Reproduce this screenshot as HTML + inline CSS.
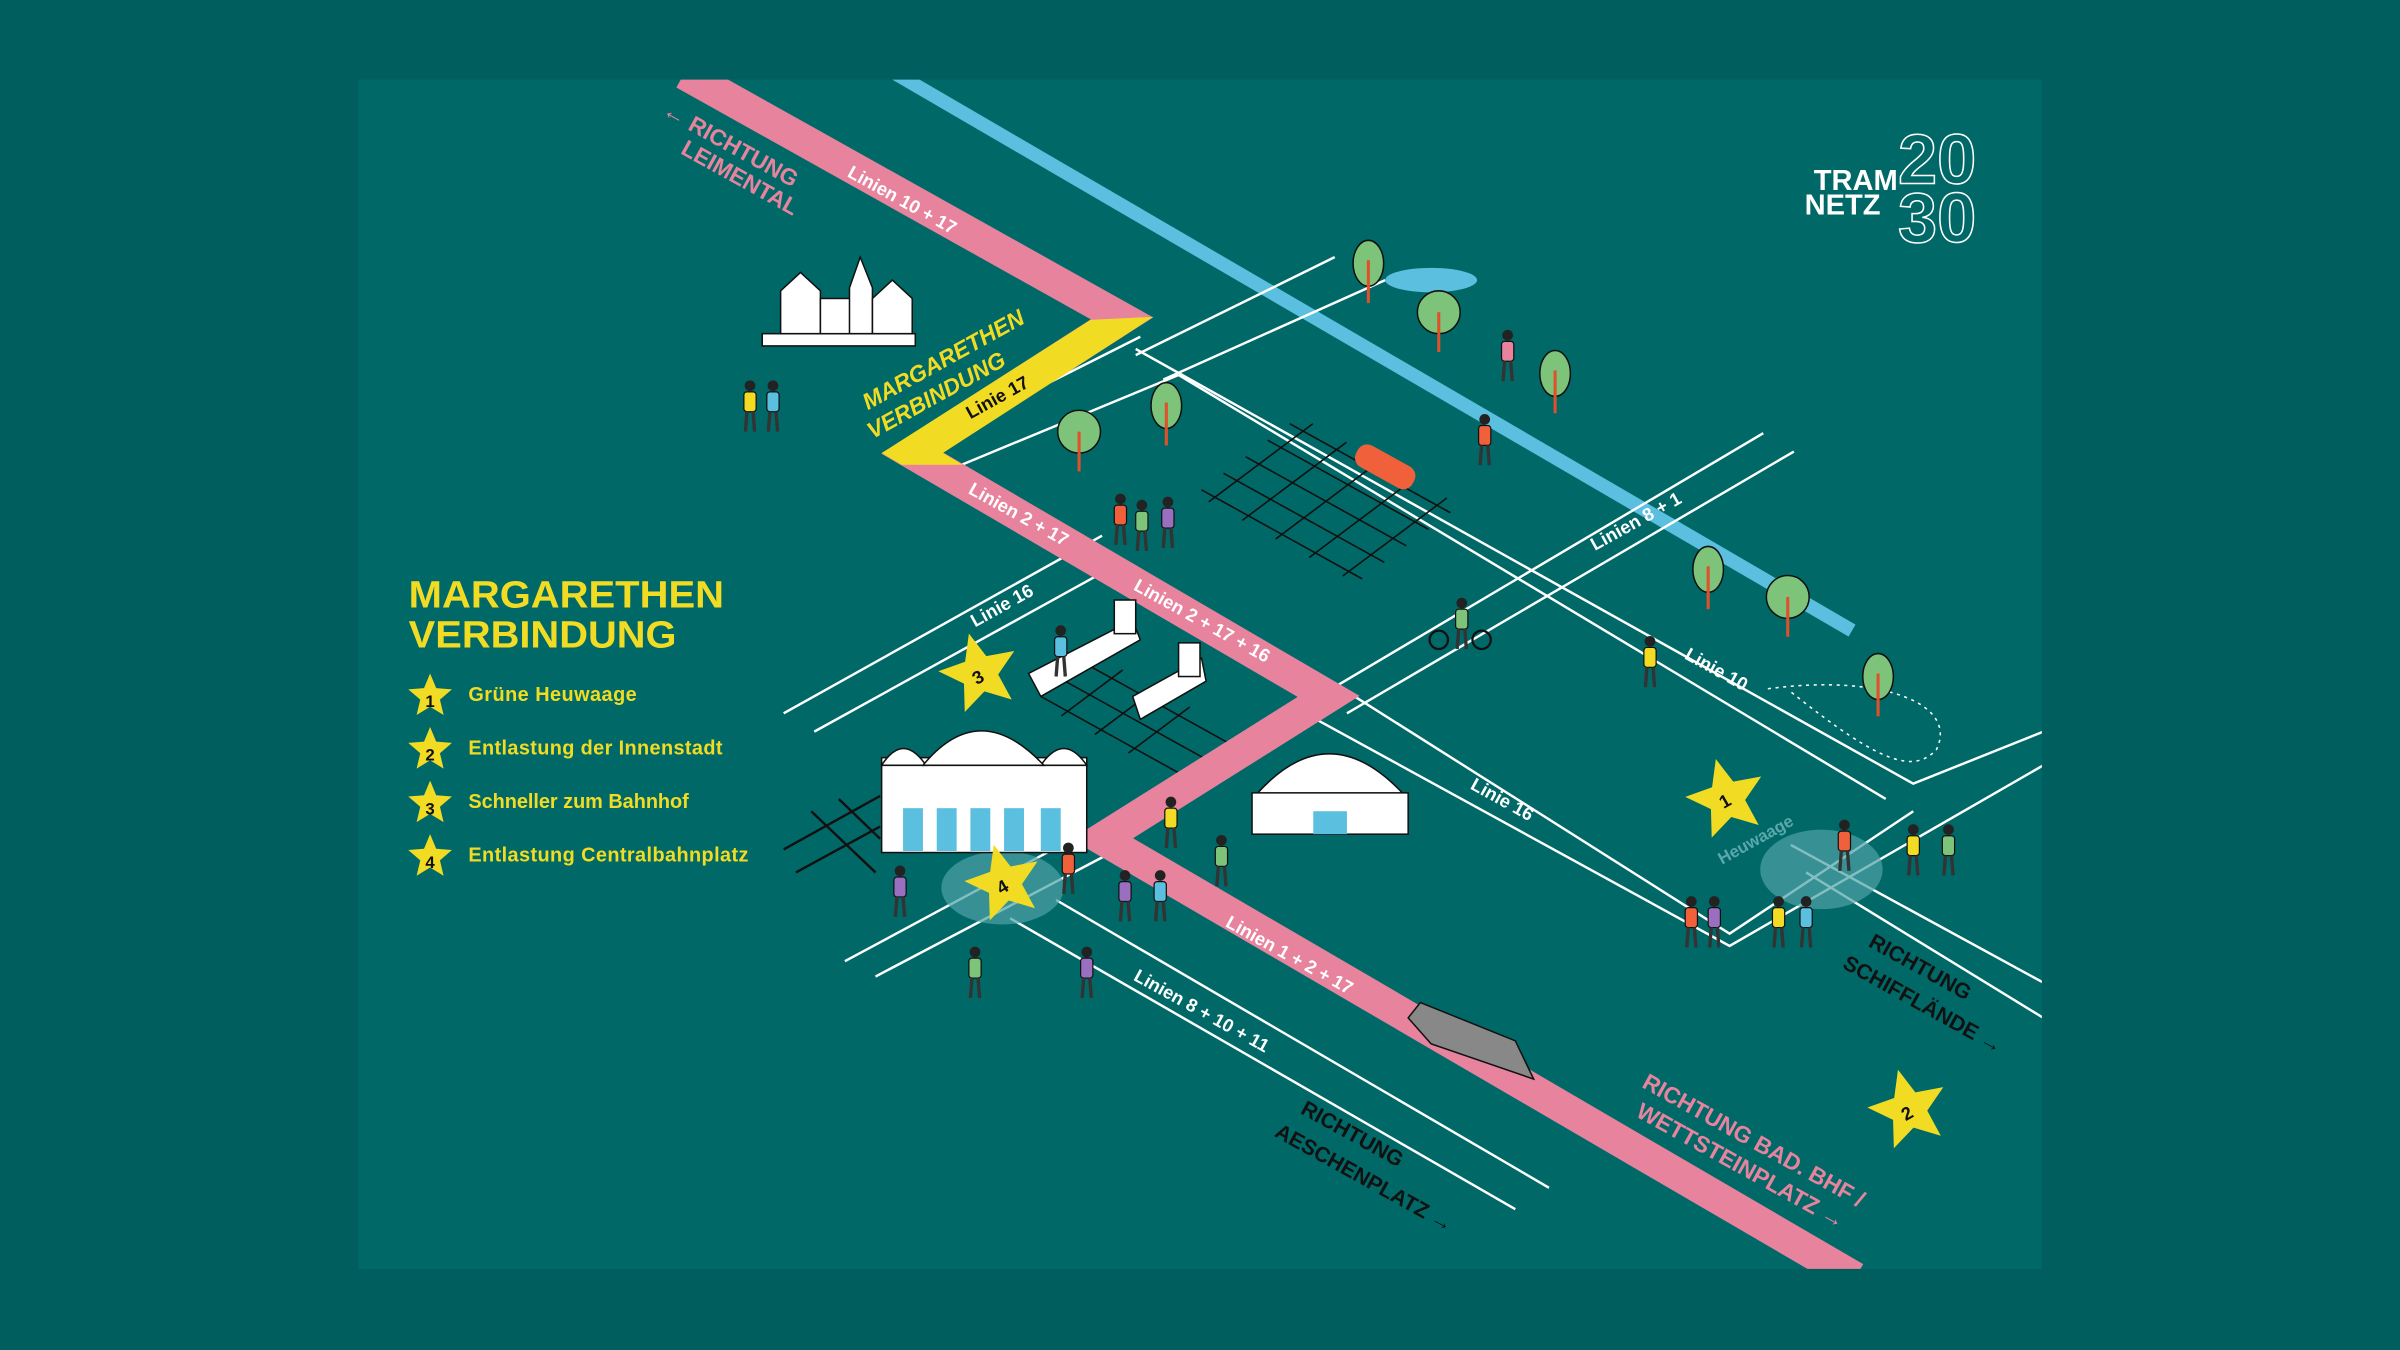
<!DOCTYPE html>
<html><head><meta charset="utf-8"><style>
html,body{margin:0;padding:0;background:#006060;}
svg{display:block;}
text{font-family:"Liberation Sans",sans-serif;font-weight:bold;}
</style></head><body>
<svg width="2400" height="1350" viewBox="0 0 1568 882" xmlns="http://www.w3.org/2000/svg">
<defs>
<polygon id="st" points="0,-1 0.265,-0.364 0.951,-0.309 0.428,0.139 0.588,0.809 0,0.45 -0.588,0.809 -0.428,0.139 -0.951,-0.309 -0.265,-0.364"/>
<g id="tree"><ellipse cx="0" cy="-18" rx="10" ry="15" fill="#7dc47a" stroke="#111" stroke-width="1"/><line x1="0" y1="-20" x2="0" y2="8" stroke="#e0502a" stroke-width="2"/></g>
<g id="bigtree"><circle cx="0" cy="-18" r="14" fill="#7dc47a" stroke="#111" stroke-width="1"/><line x1="0" y1="-18" x2="0" y2="8" stroke="#e0502a" stroke-width="2"/></g>
<g id="p"><circle cx="0" cy="-26" r="3.5" fill="#222"/><rect x="-4" y="-22" width="8" height="13" rx="2" stroke="#111" stroke-width="0.8"/><line x1="-2" y1="-9" x2="-3" y2="4" stroke="#333" stroke-width="2.2"/><line x1="2" y1="-9" x2="3" y2="4" stroke="#333" stroke-width="2.2"/></g>
</defs>
<rect width="1568" height="882" fill="#005f5e"/>
<rect x="234" y="52" width="1100" height="777" fill="#006968"/>
<clipPath id="c"><rect x="234" y="52" width="1100" height="777"/></clipPath>
<g clip-path="url(#c)">
<line x1="585" y1="48" x2="1210" y2="412" stroke="#5bbfe0" stroke-width="9"/>
<g stroke="#fff" stroke-width="1.6" fill="none">
<polyline points="742,228 1250,512 1335,478"/>
<polyline points="770,245 1232,522"/>
<polyline points="742,232 872,168"/><polyline points="760,248 905,183"/>
<polyline points="610,288 745,220"/><polyline points="625,305 770,245"/>
<polyline points="512,466 720,350"/><polyline points="532,478 735,366"/>
<polyline points="870,450 1152,283"/><polyline points="880,466 1172,295"/>
<polyline points="885,455 1130,610 1250,530"/><polyline points="860,470 1130,618 1335,500"/>
<polyline points="552,628 712,542"/><polyline points="572,638 728,556"/>
<polyline points="690,588 1012,776"/><polyline points="660,600 990,790"/>
<polyline points="1170,552 1335,642"/><polyline points="1180,570 1335,665"/>
</g>
<!-- black grids -->
<g stroke="#111" stroke-width="1.6">
<g transform="matrix(0.875,0.485,0.8,-0.6,785,320)">
<g vector-effect="non-scaling-stroke">
<line x1="0" y1="0" x2="120" y2="0" vector-effect="non-scaling-stroke"/><line x1="0" y1="18" x2="120" y2="18" vector-effect="non-scaling-stroke"/><line x1="0" y1="36" x2="120" y2="36" vector-effect="non-scaling-stroke"/><line x1="0" y1="54" x2="120" y2="54" vector-effect="non-scaling-stroke"/><line x1="0" y1="72" x2="120" y2="72" vector-effect="non-scaling-stroke"/>
<line x1="10" y1="-5" x2="10" y2="80" vector-effect="non-scaling-stroke"/><line x1="35" y1="-5" x2="35" y2="80" vector-effect="non-scaling-stroke"/><line x1="60" y1="-5" x2="60" y2="80" vector-effect="non-scaling-stroke"/><line x1="85" y1="-5" x2="85" y2="80" vector-effect="non-scaling-stroke"/><line x1="110" y1="-5" x2="110" y2="80" vector-effect="non-scaling-stroke"/>
</g></g>
<g transform="matrix(0.875,0.485,0.8,-0.6,680,455)">
<line x1="0" y1="0" x2="110" y2="0" vector-effect="non-scaling-stroke"/><line x1="0" y1="18" x2="110" y2="18" vector-effect="non-scaling-stroke"/><line x1="0" y1="36" x2="110" y2="36" vector-effect="non-scaling-stroke"/>
<line x1="20" y1="-5" x2="20" y2="45" vector-effect="non-scaling-stroke"/><line x1="45" y1="-5" x2="45" y2="45" vector-effect="non-scaling-stroke"/><line x1="70" y1="-5" x2="70" y2="45" vector-effect="non-scaling-stroke"/>
</g>
<line x1="512" y1="555" x2="575" y2="520"/><line x1="520" y1="570" x2="575" y2="540"/><line x1="530" y1="530" x2="572" y2="570"/><line x1="548" y1="522" x2="575" y2="548"/>
</g>
<!-- roads -->
<polyline points="447,48 733,208 596,296 868,455 720,548 1212,835" stroke="#e8839e" stroke-width="21" fill="none" stroke-linejoin="miter" stroke-miterlimit="10"/>
<polygon points="753.5,207 616,296 629,303.6 589,303.6 576,296 712.5,209" fill="#f2dc23"/>
<!-- Heuwaage dots -->
<ellipse cx="1190" cy="568" rx="40" ry="26" fill="#4fa3a6" opacity="0.7"/>
<ellipse cx="655" cy="580" rx="40" ry="24" fill="#4fa3a6" opacity="0.7"/>
<path d="M1155,450 C1230,440 1280,460 1265,490 C1250,505 1230,500 1170,452" stroke="#fff" stroke-dasharray="2,3" fill="none"/>
<!-- buildings -->
<g fill="#fff" stroke="#111" stroke-width="1">
<rect x="498" y="218" width="100" height="8"/>
<polygon points="510,218 510,190 523,178 536,190 536,218"/>
<rect x="536" y="195" width="22" height="23"/><polygon points="555,218 555,188 562,168 570,188 570,218"/>
<polygon points="570,218 570,195 583,183 596,195 596,218"/>
<rect x="576" y="495" width="134" height="62"/>
<path d="M576,500 Q590,478 605,500 Z"/><path d="M680,500 Q695,478 710,500 Z"/>
<path d="M603,500 Q640,455 682,500 Z"/>
<path d="M820,520 Q868,465 918,520 Z"/><rect x="818" y="518" width="102" height="27"/>
<polygon points="672,440 740,405 745,418 680,455"/><polygon points="740,455 785,430 788,445 745,470"/>
<rect x="728" y="392" width="14" height="22"/><rect x="770" y="420" width="14" height="22"/>
<polygon points="928,655 990,680 1002,705 935,682 920,665" fill="#888"/>
</g>
<g fill="#5bbfe0"><rect x="590" y="528" width="13" height="28"/><rect x="612" y="528" width="13" height="28"/><rect x="634" y="528" width="13" height="28"/><rect x="656" y="528" width="13" height="28"/><rect x="680" y="528" width="13" height="28"/><rect x="858" y="530" width="22" height="15"/></g>
<ellipse cx="935" cy="183" rx="30" ry="8" fill="#5bbfe0"/>
<use href="#tree" x="894" y="190"/><use href="#bigtree" x="940" y="222"/><use href="#tree" x="1016" y="262"/><use href="#tree" x="762" y="283"/><use href="#bigtree" x="705" y="300"/><use href="#tree" x="1116" y="390"/><use href="#bigtree" x="1168" y="408"/><use href="#tree" x="1227" y="460"/>
<rect x="884" y="297" width="42" height="16" rx="7" fill="#f0603a" transform="rotate(29 905 305)"/>
<!-- people -->
<use href="#p" x="732" y="352" fill="#f0603a"/><use href="#p" x="746" y="356" fill="#7dc47a"/><use href="#p" x="763" y="354" fill="#9b6fc0"/>
<use href="#p" x="490" y="278" fill="#f2dc23"/><use href="#p" x="505" y="278" fill="#5bbfe0"/>
<use href="#p" x="693" y="438" fill="#5bbfe0"/><use href="#p" x="970" y="300" fill="#f0603a"/><use href="#p" x="985" y="245" fill="#e8839e"/>
<use href="#p" x="1078" y="445" fill="#f2dc23"/><use href="#p" x="955" y="420" fill="#7dc47a"/>
<use href="#p" x="765" y="550" fill="#f2dc23"/><use href="#p" x="798" y="575" fill="#7dc47a"/><use href="#p" x="735" y="598" fill="#9b6fc0"/><use href="#p" x="758" y="598" fill="#5bbfe0"/>
<use href="#p" x="698" y="580" fill="#f0603a"/><use href="#p" x="588" y="595" fill="#9b6fc0"/><use href="#p" x="637" y="648" fill="#7dc47a"/><use href="#p" x="710" y="648" fill="#9b6fc0"/>
<use href="#p" x="1105" y="615" fill="#f0603a"/><use href="#p" x="1120" y="615" fill="#9b6fc0"/><use href="#p" x="1180" y="615" fill="#5bbfe0"/><use href="#p" x="1162" y="615" fill="#f2dc23"/>
<use href="#p" x="1205" y="565" fill="#f0603a"/><use href="#p" x="1250" y="568" fill="#f2dc23"/><use href="#p" x="1273" y="568" fill="#7dc47a"/>
<circle cx="940" cy="418" r="6" fill="none" stroke="#111" stroke-width="1.5"/><circle cx="968" cy="418" r="6" fill="none" stroke="#111" stroke-width="1.5"/>
<g fill="#f2dc23">
<use href="#st" transform="translate(640,440) rotate(-15) scale(27)"/>
<use href="#st" transform="translate(656,577) rotate(-15) scale(26)"/>
<use href="#st" transform="translate(1128,522) rotate(-15) scale(27)"/>
<use href="#st" transform="translate(1247,725) rotate(-15) scale(27)"/>
</g>
<g font-size="12" fill="#111" text-anchor="middle">
<text transform="translate(641,446) rotate(-30)">3</text><text transform="translate(657,583) rotate(-30)">4</text>
<text transform="translate(1129,527) rotate(-30)">1</text><text transform="translate(1248,731) rotate(-30)">2</text>
</g>
<g font-size="12" fill="#fff">
<text transform="translate(553,115) rotate(29)">Linien 10 + 17</text>
<text transform="translate(632,322) rotate(29)">Linien 2 + 17</text>
<text transform="translate(740,385) rotate(29)">Linien 2 + 17 + 16</text>
<text transform="translate(637,410) rotate(-29)">Linie 16</text>
<text transform="translate(1042,360) rotate(-29)">Linien 8 + 1</text>
<text transform="translate(1100,430) rotate(29)">Linie 10</text>
<text transform="translate(960,515) rotate(29)">Linie 16</text>
<text transform="translate(800,605) rotate(29)">Linien 1 + 2 + 17</text>
<text transform="translate(740,640) rotate(29)">Linien 8 + 10 + 11</text>
</g>
<text transform="translate(634,274) rotate(-29)" font-size="12" fill="#111">Linie 17</text>
<text transform="translate(1125,565) rotate(-29)" font-size="11" fill="#5aa8aa">Heuwaage</text>
<g font-size="15" fill="#f2dc23" font-style="italic">
<text transform="translate(567,268) rotate(-29)">MARGARETHEN</text>
<text transform="translate(570,287) rotate(-29)">VERBINDUNG</text>
</g>
<g font-size="15" fill="#e8839e">
<text transform="translate(432,75) rotate(29)">← RICHTUNG</text>
<text transform="translate(444,100) rotate(29)">LEIMENTAL</text>
<text transform="translate(1072,710) rotate(29)">RICHTUNG BAD. BHF /</text>
<text transform="translate(1068,729) rotate(29)">WETTSTEINPLATZ →</text>
</g>
<g font-size="14" fill="#111">
<text transform="translate(849,727) rotate(29)">RICHTUNG</text>
<text transform="translate(832,742) rotate(29)">AESCHENPLATZ →</text>
<text transform="translate(1220,618) rotate(29)">RICHTUNG</text>
<text transform="translate(1203,632) rotate(29)">SCHIFFLÄNDE →</text>
</g>
</g>
<g fill="#f2dc23">
<text x="267" y="397" font-size="25" textLength="206" lengthAdjust="spacingAndGlyphs">MARGARETHEN</text>
<text x="267" y="423" font-size="25" textLength="175" lengthAdjust="spacingAndGlyphs">VERBINDUNG</text>
<use href="#st" transform="translate(281,455) scale(15)"/>
<use href="#st" transform="translate(281,490) scale(15)"/>
<use href="#st" transform="translate(281,525) scale(15)"/>
<use href="#st" transform="translate(281,560) scale(15)"/>
<g font-size="13"><text x="306" y="458" textLength="110">Grüne Heuwaage</text><text x="306" y="493" textLength="166">Entlastung der Innenstadt</text><text x="306" y="528" textLength="144">Schneller zum Bahnhof</text><text x="306" y="563" textLength="183">Entlastung Centralbahnplatz</text></g>
</g>
<g font-size="11" fill="#111" text-anchor="middle"><text x="281" y="462">1</text><text x="281" y="497">2</text><text x="281" y="532">3</text><text x="281" y="567">4</text></g>
<text x="1240" y="120" font-size="46" font-weight="normal" fill="none" stroke="#fff" stroke-width="1">20</text>
<text x="1240" y="158" font-size="46" font-weight="normal" fill="none" stroke="#fff" stroke-width="1">30</text>
<text x="1185" y="124" font-size="19" fill="#fff">TRAM</text>
<text x="1179" y="140" font-size="19" fill="#fff">NETZ</text>
</svg>
</body></html>
